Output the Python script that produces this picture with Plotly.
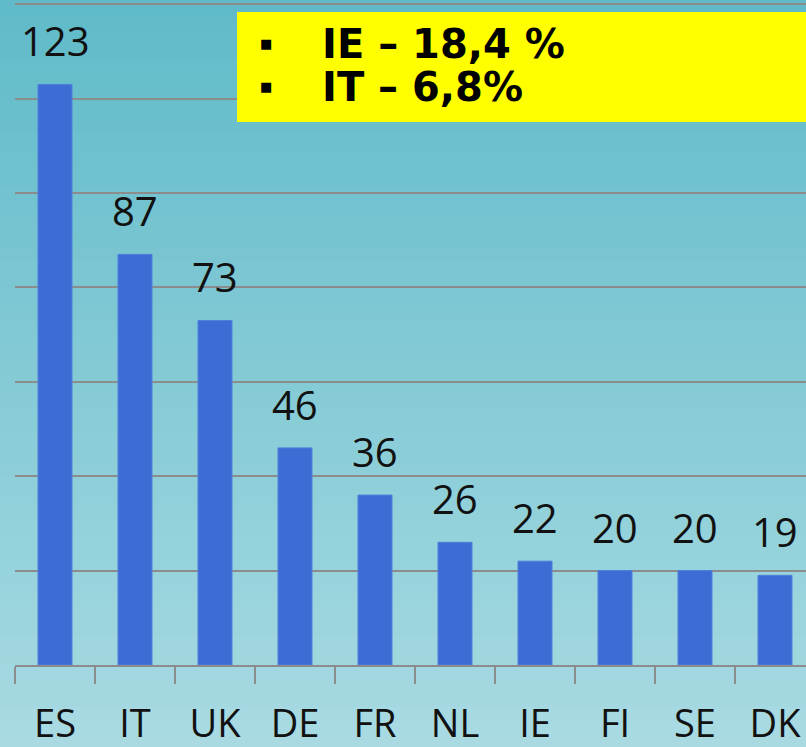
import plotly.graph_objects as go

countries = ["ES", "IT", "UK", "DE", "FR", "NL", "IE", "FI", "SE", "DK"]
values = [123, 87, 73, 46, 36, 26, 22, 20, 20, 19]
box_lines = ["IE – 18,4 %", "IT – 6,8%"]

W, H = 806, 747
left, bottom = 15, 82
plot_h = H - bottom
px_per_unit = 4.72
ymax = plot_h / px_per_unit
plot_w = W - left
xmax = -0.5 + plot_w / 80.0

fig = go.Figure()
fig.add_trace(go.Bar(
    x=countries, y=values,
    marker=dict(color="#3d6cd4", line=dict(color="#4f80dc", width=1)),
    width=0.425,
    hoverinfo="skip",
))

# value labels above bars
for c, v in zip(countries, values):
    fig.add_annotation(x=c, y=v, text=str(v), showarrow=False,
                       yanchor="bottom", yshift=14,
                       font=dict(family="Open Sans", size=40, color="#111111"))

# gradient background
shapes = []
n = 60
top = (86, 182, 197)
bot = (170, 219, 227)
step = 1.3 / n
for i in range(n):
    t = i / (n - 1)
    col = tuple(int(round(top[k] + (bot[k] - top[k]) * t)) for k in range(3))
    y1 = 1.15 - i * step
    shapes.append(dict(type="rect", xref="paper", yref="paper",
                       x0=-0.1, x1=1.1,
                       y0=y1 - step * 2.0, y1=y1,
                       fillcolor="rgb(%d,%d,%d)" % col, line=dict(width=0),
                       layer="below"))

# yellow box
shapes.append(dict(type="rect", xref="paper", yref="paper",
                   x0=(237 - left) / plot_w, x1=1.02,
                   y0=1 - 122 / plot_h, y1=1 - 12 / plot_h,
                   fillcolor="#ffff00", line=dict(width=0), layer="above"))

for i, txt in enumerate(box_lines):
    ypix = 44 + i * 42
    yp = 1 - ypix / plot_h
    fig.add_annotation(xref="paper", yref="paper", x=(266 - left) / plot_w, y=yp,
                       text="■", showarrow=False, xanchor="center", yanchor="middle",
                       font=dict(family="DejaVu Sans", size=13, color="#000000"))
    fig.add_annotation(xref="paper", yref="paper", x=(320 - left) / plot_w, y=yp,
                       text="<b>%s</b>" % txt, showarrow=False, xanchor="left", yanchor="middle",
                       height=41,
                       font=dict(family="DejaVu Sans", size=40, color="#000000"))

fig.update_layout(
    width=W, height=H,
    margin=dict(l=left, r=0, t=0, b=bottom, autoexpand=False),
    paper_bgcolor="rgb(170,219,227)",
    plot_bgcolor="rgba(0,0,0,0)",
    shapes=shapes,
    showlegend=False,
    xaxis=dict(range=[-0.5, xmax], showline=True, linecolor="#8c8c8c", linewidth=2,
               ticks="outside", ticklen=17, tickwidth=2, tickcolor="#8c8c8c",
               tickson="boundaries", showgrid=False, ticklabelstandoff=24,
               automargin=False,
               tickfont=dict(family="Open Sans", size=38, color="#111111")),
    yaxis=dict(range=[0, ymax], dtick=20, showgrid=True, gridcolor="#8c8c8c", gridwidth=2,
               showticklabels=False, zeroline=False, showline=False, ticks="",
               automargin=False),
)

fig.write_html("out.html", config={"displayModeBar": False},
               post_script="document.body.style.margin='0';document.body.style.padding='0';document.body.style.overflow='hidden';")
